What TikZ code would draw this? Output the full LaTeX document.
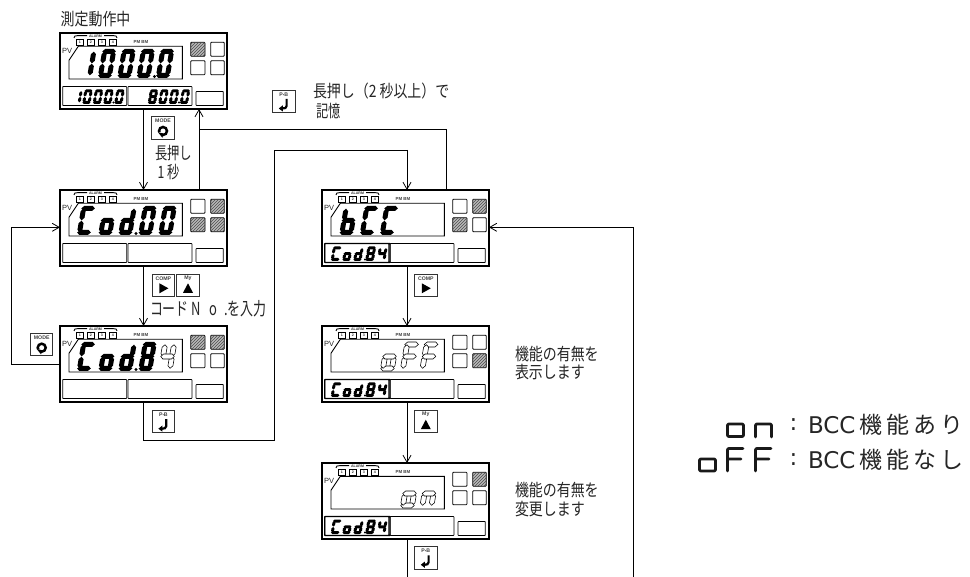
\documentclass[tikz,border=0pt]{standalone}
\usepackage{fontspec}
\usetikzlibrary{arrows.meta,patterns}
\setmainfont{Liberation Sans}
\newfontfamily\jp[FakeStretch=0.72]{Noto Sans CJK JP}
\newfontfamily\jpw[FakeStretch=0.82]{Noto Sans CJK JP}
\newfontfamily\jplg[LetterSpace=17]{Noto Sans CJK JP}
\newfontfamily\dv{DejaVu Sans}
\newcommand\fsz[1]{\fontsize{#1}{#1}\selectfont}
\tikzset{
  x=1pt,y=-1pt,
  flow/.style={line width=0.9pt,draw=black},
  arr/.style={flow,-{Straight Barb[length=7pt,width=8pt,line width=0.8pt]}},
  panelbox/.style={draw=black,line width=1.3pt,fill=white,minimum width=167pt,minimum height=76pt,inner sep=0pt,outer sep=0pt},
  sqon/.style={draw=black,line width=.8pt,rounded corners=.8pt,fill=gray!55,postaction={pattern=north east lines,pattern color=black!70}},
  sqoff/.style={draw=black,line width=.8pt,rounded corners=.8pt,fill=white},
  sub/.style={draw=black,line width=.8pt,rounded corners=.6pt},
  txt/.style={inner sep=0pt,outer sep=0pt,anchor=west,text=black!85},
  tinyt/.style={inner sep=0pt,outer sep=0pt,font=\bfseries\fsz{3.6},text=black!80},
  btnbox/.style={draw=black!80,line width=1pt,fill=white,minimum width=22.5pt,minimum height=22.5pt,inner sep=0pt,outer sep=0pt},
  btnlab/.style={inner sep=0pt,outer sep=0pt,font=\bfseries\fsz{5.2},text=black!75},
  bold/.style={fill=black},
  hollow/.style={draw=black,line width=.55pt,fill=white},
  glyph/.style={line width=2.8pt,draw=black!90,line cap=round,line join=round,rounded corners=1.2pt},
}
% seven-segment digit
\newcommand\hseg[1]{\path[dstyle] ({\sgg},{#1}) -- ({\sgg+\sgt/2},{#1-\sgt/2}) -- ({\sgw-\sgg-\sgt/2},{#1-\sgt/2}) -- ({\sgw-\sgg},{#1}) -- ({\sgw-\sgg-\sgt/2},{#1+\sgt/2}) -- ({\sgg+\sgt/2},{#1+\sgt/2}) -- cycle;}
\newcommand\vseg[3]{\path[dstyle] ({#1},{#2+\sgg}) -- ({#1+\sgt/2},{#2+\sgg+\sgt/2}) -- ({#1+\sgt/2},{#3-\sgg-\sgt/2}) -- ({#1},{#3-\sgg}) -- ({#1-\sgt/2},{#3-\sgg-\sgt/2}) -- ({#1-\sgt/2},{#2+\sgg+\sgt/2}) -- cycle;}
\newcommand\sega{\hseg{\sgt/2}}
\newcommand\segg{\hseg{\sgh/2}}
\newcommand\segd{\hseg{\sgh-\sgt/2}}
\newcommand\segf{\vseg{\sgt/2}{\sgt/2}{\sgh/2}}
\newcommand\segb{\vseg{\sgw-\sgt/2}{\sgt/2}{\sgh/2}}
\newcommand\sege{\vseg{\sgt/2}{\sgh/2}{\sgh-\sgt/2}}
\newcommand\segc{\vseg{\sgw-\sgt/2}{\sgh/2}{\sgh-\sgt/2}}
% x y w h t segments style
\newcommand\digit[7]{\begin{scope}[shift={(#1,#2)},xslant=0.17,dstyle/.style={#7}]
  \def\sgw{#3}\def\sgh{#4}\def\sgt{#5}\def\sgg{0.2}
  \foreach \segname in #6 {\csname seg\segname\endcsname}
\end{scope}}
\def\Zero{a,b,c,d,e,f}\def\One{b,c}\def\Four{b,c,f,g}\def\Eight{a,b,c,d,e,f,g}
\def\Cc{a,d,e,f}\def\Oo{c,d,e,g}\def\Dd{b,c,d,e,g}\def\Bb{c,d,e,f,g}\def\Ff{a,e,f,g}\def\Nn{c,e,g}
\newcommand\bigd[3]{\digit{#1}{16}{14}{29}{5}{#2}{#3}}
\newcommand\smalld[3]{\digit{#1}{56.5}{8.4}{14.5}{3}{#2}{bold}}
% name x y tl tr bl br
\newcommand\panel[7]{
  \node[panelbox] (#1) at ({#2+83.5},{#3+38}) {};
  \begin{scope}[shift={(#2,#3)}]
    \foreach \lx/\ln in {16.7/1,27.7/2,38.7/3,49.7/4}{
      \draw[line width=.8pt,fill=white] (\lx,6.7) rectangle ++(6.4,6);
      \node[tinyt] (#1led\ln) at (\lx+3.2,9.7) {\ln};
    }
    \draw[line width=.9pt] (14,5) .. controls (14,3) and (15,2.6) .. (18,2.6) -- (27,2.6) (44,2.6) -- (53,2.6) .. controls (56,2.6) and (57,3) .. (57,5);
    \node[tinyt] (#1alarm) at (35.5,2.8) {ALARM};
    \node[inner sep=0pt,font=\bfseries\fsz{4.4},text=black!75] (#1pm) at (81,8.8) {PM BM};
    \node[inner sep=0pt,font=\fsz{7.5},text=black!85] (#1pv) at (7.2,17.5) {PV};
    \draw[line width=.9pt] (18.3,13.3) -- (122.3,13.3) -- (122.3,46) -- (9,46) -- (9,27.3) -- cycle;
    \draw[#4] (130.7,9.3) rectangle (145,23.3);
    \draw[#5] (150.7,9.3) rectangle (164.3,23.3);
    \draw[#6] (130.7,27.7) rectangle (145,41.7);
    \draw[#7] (150.7,27.7) rectangle (164.3,41.7);
    \draw[sub] (2.7,53.5) rectangle (66.7,72.5);
    \draw[sub] (68,53.5) rectangle (132,72.5);
    \draw[sub] (136,58.5) rectangle (163.3,72.5);
  \end{scope}}
% name cx cy label icon
\newcommand\btn[5]{
  \node[btnbox] (#1) at (#2,#3) {};
  \node[btnlab] (#1lab) at (#2,#3-7) {#4};
  \begin{scope}[shift={(#2,#3+3)}]#5\end{scope}}
\newcommand\iconmode{
  \draw[line width=2.5pt] (0,0) circle[radius=4pt];
  \fill[white] (-6,1.2) rectangle (-0.6,6.5);
  \fill (-5.2,1) -- (0.4,2.6) -- (-0.6,6.8) -- cycle;}
\newcommand\iconright{\fill (-4,-5) -- (5,0) -- (-4,5) -- cycle;}
\newcommand\iconup{\fill (-5,4.5) -- (0,-5) -- (5,4.5) -- cycle;}
\newcommand\iconpb{
  \draw[line width=2.2pt] (2.8,-5.5) -- (2.8,1.5) .. controls (2.8,3.5) and (1,4) .. (-1.5,4);
  \fill (-1,0.8) -- (-5,4) -- (-1,7) -- cycle;}
\begin{document}
\begin{tikzpicture}
\useasboundingbox[fill=white] (0,0) rectangle (970,577);

% panels
\panel{pa}{60}{33}{sqon}{sqoff}{sqoff}{sqoff}
\panel{pb}{60}{190}{sqoff}{sqon}{sqon}{sqon}
\panel{pc}{60}{326}{sqon}{sqon}{sqoff}{sqoff}
\panel{pd}{322}{190}{sqoff}{sqon}{sqon}{sqoff}
\panel{pe}{322}{326}{sqoff}{sqoff}{sqoff}{sqon}
\panel{pf}{322}{463}{sqoff}{sqon}{sqoff}{sqoff}

% panel a digits
\begin{scope}[shift={(60,33)}]
  \bigd{22.8}{\One}{bold}\bigd{42.5}{\Zero}{bold}\bigd{62}{\Zero}{bold}\bigd{81.2}{\Zero}{bold}\bigd{100.5}{\Zero}{bold}
  \fill (94.5,43.5) circle[radius=1.7pt];
  \smalld{14.5}{\One}{}\smalld{24.5}{\Zero}{}\smalld{35}{\Zero}{}\smalld{45.5}{\Zero}{}\smalld{56.5}{\Zero}{}
  \fill (53.5,69.5) circle[radius=1.1pt];
  \smalld{90}{\Eight}{}\smalld{100.5}{\Zero}{}\smalld{111}{\Zero}{}\smalld{122}{\Zero}{}
  \fill (119,69.5) circle[radius=1.1pt];
\end{scope}
% panel b digits
\begin{scope}[shift={(60,190)}]
  \bigd{21.5}{\Cc}{bold}\bigd{43}{\Oo}{bold}\bigd{63}{\Dd}{bold}\bigd{83}{\Zero}{bold}\bigd{103}{\Zero}{bold}
  \fill (76,43.5) circle[radius=1.7pt];
\end{scope}
% panel c digits
\begin{scope}[shift={(60,326)}]
  \bigd{21.5}{\Cc}{bold}\bigd{43}{\Oo}{bold}\bigd{63}{\Dd}{bold}\bigd{83}{\Eight}{bold}\bigd{103}{\Four}{hollow}
  \fill (76,43.5) circle[radius=1.7pt];
\end{scope}
% panel d digits
\begin{scope}[shift={(322,190)}]
  \bigd{22}{\Bb}{bold}\bigd{42.5}{\Cc}{bold}\bigd{62.5}{\Cc}{bold}
\end{scope}
% panel e digits
\begin{scope}[shift={(322,326)}]
  \bigd{63}{\Oo}{hollow}\bigd{83}{\Ff}{hollow}\bigd{102.5}{\Ff}{hollow}
\end{scope}
% panel f digits
\begin{scope}[shift={(322,463)}]
  \bigd{83}{\Oo}{hollow}\bigd{102.5}{\Nn}{hollow}
\end{scope}
% Cod84 in the lower display, right column
\foreach \py in {190,326,463}{
\begin{scope}[shift={(322,\py)}]
  \draw[line width=1.3pt,rounded corners=.6pt] (2.7,53.5) rectangle (68,72.5);
  \digit{11}{56.5}{8.8}{14.5}{3}{\Cc}{bold}\digit{22.5}{56.5}{8.4}{14.5}{3}{\Oo}{bold}\digit{33.5}{56.5}{8.4}{14.5}{3}{\Dd}{bold}
  \digit{45.5}{56.5}{8.8}{14.5}{3}{\Eight}{bold}\digit{57}{56.5}{8.8}{14.5}{3}{\Four}{bold}
  \fill (43,69.5) circle[radius=1.1pt];
\end{scope}}

% coordinates of free or bent connector points
\coordinate (upx) at (199,129);
\coordinate (rx) at (446,129);
\coordinate (inx) at (407,150);
\coordinate (lx) at (274,150);
\coordinate (bx) at (274,440);
\coordinate (ll) at (11.7,364);
\coordinate (lu) at (11.7,227.3);
\coordinate (fdown) at (407,577);
\coordinate (rdown) at (633,577);
\coordinate (rup) at (633,227.3);

% connectors
\draw[arr] (pa.south) -- (pb.north);
\draw[arr] (pb.north -| upx) -- (pa.south -| upx);
\draw[flow] (pd.north -| rx) -- (rx) -- (upx);
\draw[arr] (pb.south) -- (pc.north);
\draw[flow] (pc.west |- ll) -- (ll) -- (lu);
\draw[arr] (lu) -- (pb.west |- lu);
\draw[flow] (pc.south) -- (pc.south |- bx) -- (bx) -- (lx) -- (inx);
\draw[arr] (inx) -- (pd.north -| inx);
\draw[arr] (pd.south -| inx) -- (pe.north -| inx);
\draw[arr] (pe.south -| inx) -- (pf.north -| inx);
\draw[flow] (pf.south -| inx) -- (fdown);
\draw[flow] (rdown) -- (rup);
\draw[arr] (rup) -- (pd.east |- rup);

% buttons
\btn{ba}{163}{128}{MODE}{\iconmode}
\btn{bb}{163.4}{285.3}{COMP}{\iconright}
\btn{bc}{188}{285.3}{My}{\iconup}
\btn{bd}{41.7}{344.7}{MODE}{\iconmode}
\btn{be}{163.4}{421.7}{P{\fsz{4}•}B}{\iconpb}
\btn{bf}{283.8}{101.5}{P{\fsz{4}•}B}{\iconpb}
\btn{bg}{425.8}{285.3}{COMP}{\iconright}
\btn{bh}{425.8}{421.7}{My}{\iconup}
\btn{bi}{425.8}{557.8}{P{\fsz{4}•}B}{\iconpb}

% texts
\node[txt,font=\jpw\fsz{17}] (t1) at (60.7,19.5) {測定動作中};
\node[txt,font=\jp\fsz{17}] (t2) at (155,153.5) {長押し};
\node[txt,font=\jp\fsz{17}] (t3) at (157.5,172.5) {1 秒};
\node[txt,font=\jp\fsz{18}] (t4) at (150,308.5) {コード\kern3pt N\kern8pt o\kern7pt .を入力};
\node[txt,font=\jpw\fsz{17}] (t5) at (313,91.5) {長押し（2 秒以上）で};
\node[txt,font=\jp\fsz{17}] (t6) at (316,111.5) {記憶};
\node[txt,font=\jpw\fsz{17}] (t7) at (515,354) {機能の有無を};
\node[txt,font=\jpw\fsz{17}] (t8) at (515,372.5) {表示します};
\node[txt,font=\jpw\fsz{17}] (t9) at (515,490) {機能の有無を};
\node[txt,font=\jpw\fsz{17}] (t10) at (515,509) {変更します};

% legend
\draw[glyph] (727.5,424) rectangle (743.5,436.5);
\draw[glyph] (755.5,437) -- (755.5,424) -- (771.5,424) -- (771.5,437);
\draw[glyph] (699.5,459) rectangle (715.5,471);
\draw[glyph] (743,448.5) -- (727.5,448.5) -- (727.5,471) (727.5,459) -- (741,459);
\draw[glyph] (771,448.5) -- (755.5,448.5) -- (755.5,471) (755.5,459) -- (769,459);
\node[txt,font=\dv\fsz{23}] (c1) at (789.5,424.5) {:};
\node[txt,font=\dv\fsz{23}] (c2) at (789.5,460) {:};
\node[txt,font=\dv\fsz{23}] (l1) at (808,425) {BCC\,{\jplg\fsz{23}機能あり}};
\node[txt,font=\dv\fsz{23}] (l2) at (808,460) {BCC\,{\jplg\fsz{23}機能なし}};
\end{tikzpicture}
\end{document}
